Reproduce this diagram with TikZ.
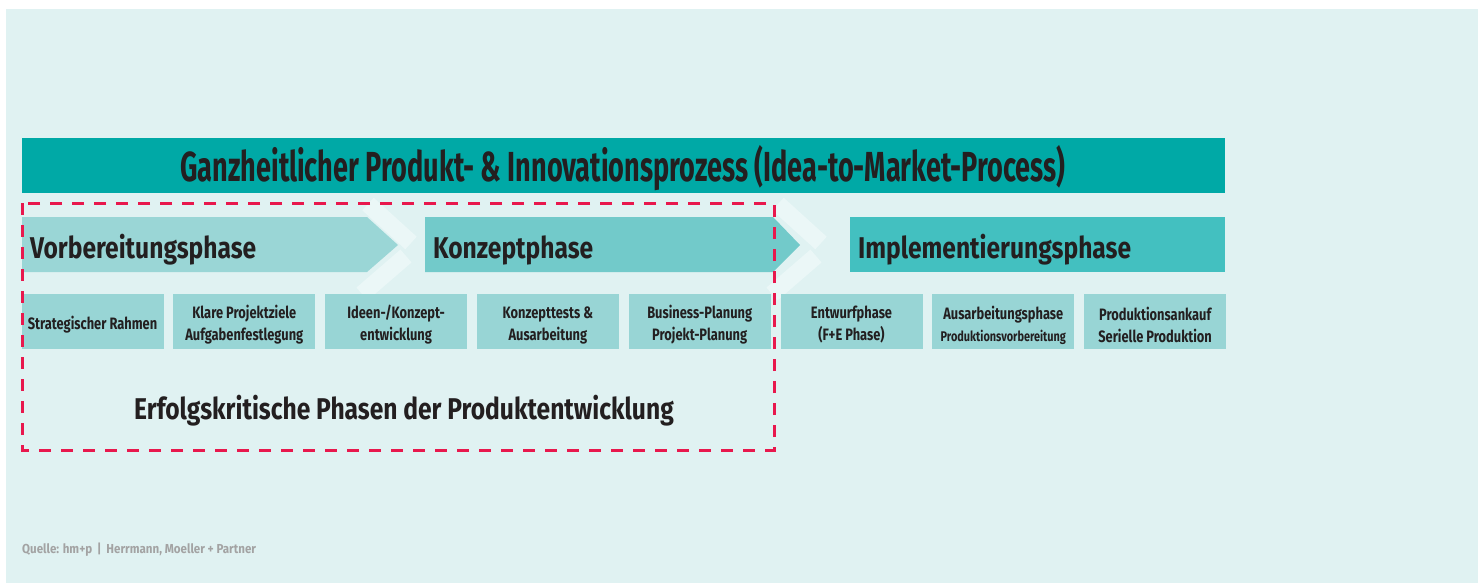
\documentclass[tikz,border=0pt]{standalone}
\usepackage{fontspec}
\usetikzlibrary{positioning}
\setmainfont{Fira Sans}
\newfontfamily\titlefont{Fira Sans}[FakeStretch=0.645]
\newfontfamily\phasefont{Fira Sans}[FakeStretch=0.82]
\newfontfamily\taskfont{Fira Sans}[FakeStretch=0.78]
\newfontfamily\srcfont{Fira Sans}[FakeStretch=0.89]

\definecolor{backcol}{HTML}{E0F2F2}
\definecolor{titlecol}{HTML}{00A9A6}
\definecolor{prepcol}{HTML}{9AD6D6}
\definecolor{conccol}{HTML}{72CACA}
\definecolor{implcol}{HTML}{43C0C0}
\definecolor{taskcol}{HTML}{98D5D5}
\definecolor{chevcol}{HTML}{EBF7F7}
\definecolor{ink}{HTML}{231F20}
\definecolor{critcol}{HTML}{E8184D}
\definecolor{srccol}{HTML}{A3A3A3}

\begin{document}
\begin{tikzpicture}[x=1pt, y=-1pt, node distance=9.4pt,
                    task node/.style={fill=taskcol, minimum width=142pt, minimum height=55pt, inner sep=0pt,
                      label={[task text]center:#1}},
                    task text/.style={yshift=-3.5pt, inner sep=0pt, align=center, text=ink,
                      font=\taskfont\bfseries\fontsize{16.5}{22}\selectfont},
                    phase label/.style={anchor=base west, inner sep=0pt, text=ink, font=\phasefont\bfseries\fontsize{30}{32}\selectfont},
                    chevron/.style={draw=chevcol, line width=17pt}]

  \useasboundingbox (0,0) rectangle (1478,583);
  \fill[white] (0,0) rectangle (1478,583);
  \fill[backcol] (6,9) rectangle (1478,583);

  % title bar
  \fill[titlecol] (22,138) rectangle (1225,193);
  \node[anchor=base, inner sep=0pt, text=ink, font=\titlefont\bfseries\fontsize{42}{44}\selectfont] (title) at (623,182) {Ganzheitlicher Produkt- \& Innovationsprozess (Idea-to-Market-Process)};

  % phases
  \fill[prepcol] (22,217) -- (367,217) -- (398,245) -- (367,272) -- (22,272) -- cycle;
  \fill[conccol] (425,217) -- (773,217) -- (800,245) -- (773,272) -- (425,272) -- cycle;
  \fill[implcol] (850,217) rectangle (1225,272);
  \draw[chevron] (368,204) -- (411,243);
  \draw[chevron] (406,256) -- (362,294);
  \draw[chevron] (778,204) -- (821,243);
  \draw[chevron] (816,256) -- (772,294);

  \node[phase label] (prep) at (30,258) {Vorbereitungsphase};
  \node[phase label] (conc) at (433,258) {Konzeptphase};
  \node[phase label] (impl) at (858,258) {Implementierungsphase};

  % tasks
  \node[task node={Strategischer Rahmen}] (t1) at (92.5,321.5) {};
  \node[task node={Klare Projektziele\\Aufgabenfestlegung}] (t2) [right=of t1] {};
  \node[task node={Ideen-/Konzept-\\entwicklung}] (t3) [right=of t2] {};
  \node[task node={Konzepttests \&\\Ausarbeitung}] (t4) [right=of t3] {};
  \node[task node={Business-Planung\\Projekt-Planung}] (t5) [right=of t4] {};
  \node[task node={Entwurfphase\\(F+E Phase)}] (t6) [right=of t5] {};
  \node[task node={Ausarbeitungsphase\\{\fontsize{14}{15}\selectfont Produktionsvorbereitung}}] (t7) [right=of t6] {};
  \node[task node={Produktionsankauf\\Serielle Produktion}] (t8) [right=of t7] {};

  % critical phases
  \draw[critcol, line width=3pt, dash pattern=on 12pt off 10pt] (22,203) rectangle (774,450);
  \node[anchor=base, inner sep=0pt, text=ink, font=\phasefont\bfseries\fontsize{30}{32}\selectfont] (crit) at (404,419) {Erfolgskritische Phasen der Produktentwicklung};

  \node[anchor=base west, inner sep=0pt, text=srccol, font=\srcfont\bfseries\fontsize{13}{15}\selectfont] (src) at (22,553) {Quelle: hm+p \,|\, Herrmann, Moeller + Partner};

\end{tikzpicture}
\end{document}
